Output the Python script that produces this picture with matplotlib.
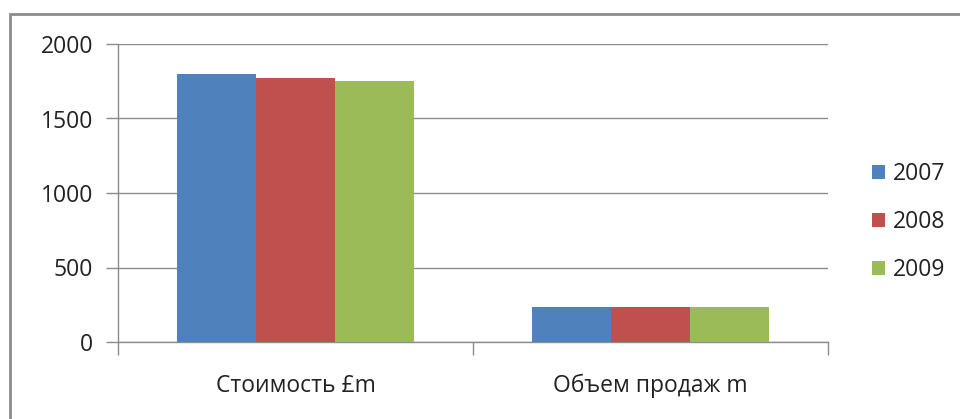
import matplotlib
matplotlib.use("Agg")
import matplotlib.pyplot as plt
import matplotlib.patches as mpatches
import numpy as np

plt.rcParams['font.family'] = ['Open Sans', 'DejaVu Sans']

categories = ["Стоимость £m", "Объем продаж m"]
series_names = ["2007", "2008", "2009"]
values_2007 = [1800, 237]
values_2008 = [1770, 237]
values_2009 = [1750, 237]
series_values = [values_2007, values_2008, values_2009]
colors = ["#4F81BD", "#C0504D", "#9BBB59"]
yticks = [0, 500, 1000, 1500, 2000]

FS = 16.5
W, H = 960, 419
fig = plt.figure(figsize=(W / 100, H / 100), dpi=100)
ax = fig.add_axes([118 / W, (H - 342) / H, 710 / W, 298 / H])

x = np.arange(len(categories))
bw = 0.222
for i, (name, vals) in enumerate(zip(series_names, series_values)):
    ax.bar(x + (i - 1) * bw, vals, width=bw, color=colors[i], label=name,
           edgecolor='none', zorder=3)

ax.set_xlim(-0.5, 1.5)
ax.set_ylim(0, 2000)
ax.set_yticks(yticks)
ax.set_yticklabels([str(v) for v in yticks])
ax.yaxis.grid(True, color='#8c8c8c', linewidth=1, zorder=0)
ax.set_axisbelow(True)

ax.set_xticks([-0.5, 0.5, 1.5], minor=False)
ax.set_xticklabels([])
ax.set_xticks(x, minor=True)
ax.set_xticklabels(categories, minor=True)
ax.tick_params(axis='x', which='minor', length=0, pad=23, labelsize=FS,
               labelcolor='#222222')
ax.tick_params(axis='x', which='major', length=9, color='#8c8c8c', width=1)
ax.tick_params(axis='y', length=9, color='#8c8c8c', width=1, labelsize=FS,
               pad=9, labelcolor='#222222')

for s in ['top', 'right']:
    ax.spines[s].set_visible(False)
for s in ['left', 'bottom']:
    ax.spines[s].set_color('#8c8c8c')
    ax.spines[s].set_linewidth(1)

leg = ax.legend(loc='center left', bbox_to_anchor=(872 / W, (H - 222) / H),
                bbox_transform=fig.transFigure, frameon=False, fontsize=FS,
                handlelength=0.57, handleheight=0.57, handletextpad=0.35,
                labelspacing=1.05, borderpad=0, borderaxespad=0)
for t in leg.get_texts():
    t.set_color('#222222')

frame = mpatches.Rectangle((10 / W, -0.1), 1.0, (H - 14) / H + 0.1,
                           transform=fig.transFigure, fill=False,
                           edgecolor='#8c8c8c', linewidth=2)
fig.patches.append(frame)

fig.savefig("out.png", dpi=100)
